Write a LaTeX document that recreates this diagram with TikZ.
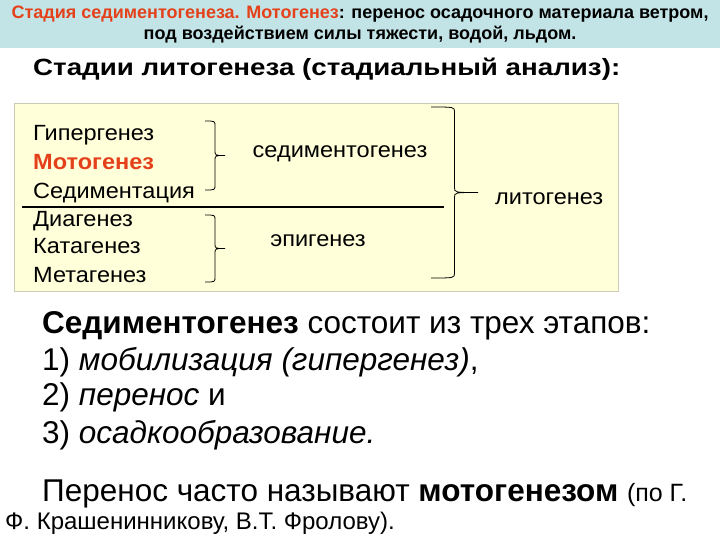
\documentclass[tikz,border=0pt]{standalone}
\usepackage{fontspec}
\setmainfont{Liberation Sans}
\newfontfamily\widetitle[FakeStretch=1.18]{Liberation Sans}
\newfontfamily\widelbl[FakeStretch=1.07]{Liberation Sans}
\definecolor{hdr}{HTML}{C3E4E6}
\definecolor{boxfill}{HTML}{FFFFD9}
\definecolor{redt}{HTML}{E4411B}
\tikzset{
  lbl/.style={anchor=base west, inner sep=0pt, font=\widelbl\fontsize{22}{24}\selectfont},
  brace/.style={draw=black, line width=0.8pt},
}
\newcommand{\mybrace}[4]{% x, ytop, ybot, width
  \draw[brace] (#1,#2) .. controls (#1+#4*0.5,#2) and (#1+#4*0.5,#2) .. (#1+#4*0.5,#2+5)
   -- (#1+#4*0.5,{(#2+#3)/2-5}) .. controls (#1+#4*0.5,{(#2+#3)/2}) .. (#1+#4,{(#2+#3)/2})
   (#1+#4,{(#2+#3)/2}) .. controls (#1+#4*0.5,{(#2+#3)/2}) .. (#1+#4*0.5,{(#2+#3)/2+5})
   -- (#1+#4*0.5,#3-5) .. controls (#1+#4*0.5,#3) .. (#1,#3);}
\begin{document}
\begin{tikzpicture}[x=1pt,y=-1pt]
\useasboundingbox (0,0) rectangle (720,540);
\fill[white] (0,0) rectangle (720,540);
% header
\fill[hdr] (0,0) rectangle (720,48);
\node[anchor=base, inner sep=0pt, font=\bfseries\fontsize{18}{20}\selectfont] (h1) at (360,19)
  {\textcolor{redt}{Стадия седиментогенеза. Мотогенез}: перенос осадочного материала ветром,};
\node[anchor=base, inner sep=0pt, font=\bfseries\fontsize{18}{20}\selectfont] (h2) at (360,40)
  {под воздействием силы тяжести, водой, льдом.};
% title
\node[anchor=base west, inner sep=0pt, font=\widetitle\bfseries\fontsize{23.5}{26}\selectfont] (title) at (33,76)
  {Стадии литогенеза (стадиальный анализ):};
% box
\draw[boxfill!60!gray, fill=boxfill, line width=0.8pt] (14,103) rectangle (618,291);
\node[lbl] (g1) at (33,141) {Гипергенез};
\node[lbl, text=redt] (g2) at (33,170) {\bfseries Мотогенез};
\node[lbl] (g3) at (33,199) {Седиментация};
\node[lbl] (g4) at (33,226) {Диагенез};
\node[lbl] (g5) at (33,254) {Катагенез};
\node[lbl] (g6) at (33,282) {Метагенез};
\draw[line width=1.6pt] (22,207) -- (444,207);
\mybrace{205}{121}{190}{20}
\mybrace{205}{215}{282}{20}
\mybrace{431}{107}{278}{47}
\node[lbl, anchor=base] (sed) at (340,158) {седиментогенез};
\node[lbl, anchor=base] (epi) at (318,246) {эпигенез};
\node[lbl] (lit) at (495,205) {литогенез};
% lower text
\begin{scope}[every node/.style={anchor=base west, inner sep=0pt, font=\fontsize{31.5}{34}\selectfont}]
\node (t1) at (42,333) {\textbf{Седиментогенез} состоит из трех этапов:};
\node (t2) at (42,370) {1) \textit{мобилизация (гипергенез)},};
\node (t3) at (42,405) {2) \textit{перенос} и};
\node (t4) at (42,443) {3) \textit{осадкообразование.}};
\node (t5) at (42,501) {Перенос часто называют \textbf{мотогенезом} {\fontsize{25}{27}\selectfont (по Г.}};
\node[font=\fontsize{24}{26}\selectfont] (t6) at (5,529) {Ф. Крашенинникову, В.Т. Фролову).};
\end{scope}
\end{tikzpicture}
\end{document}
